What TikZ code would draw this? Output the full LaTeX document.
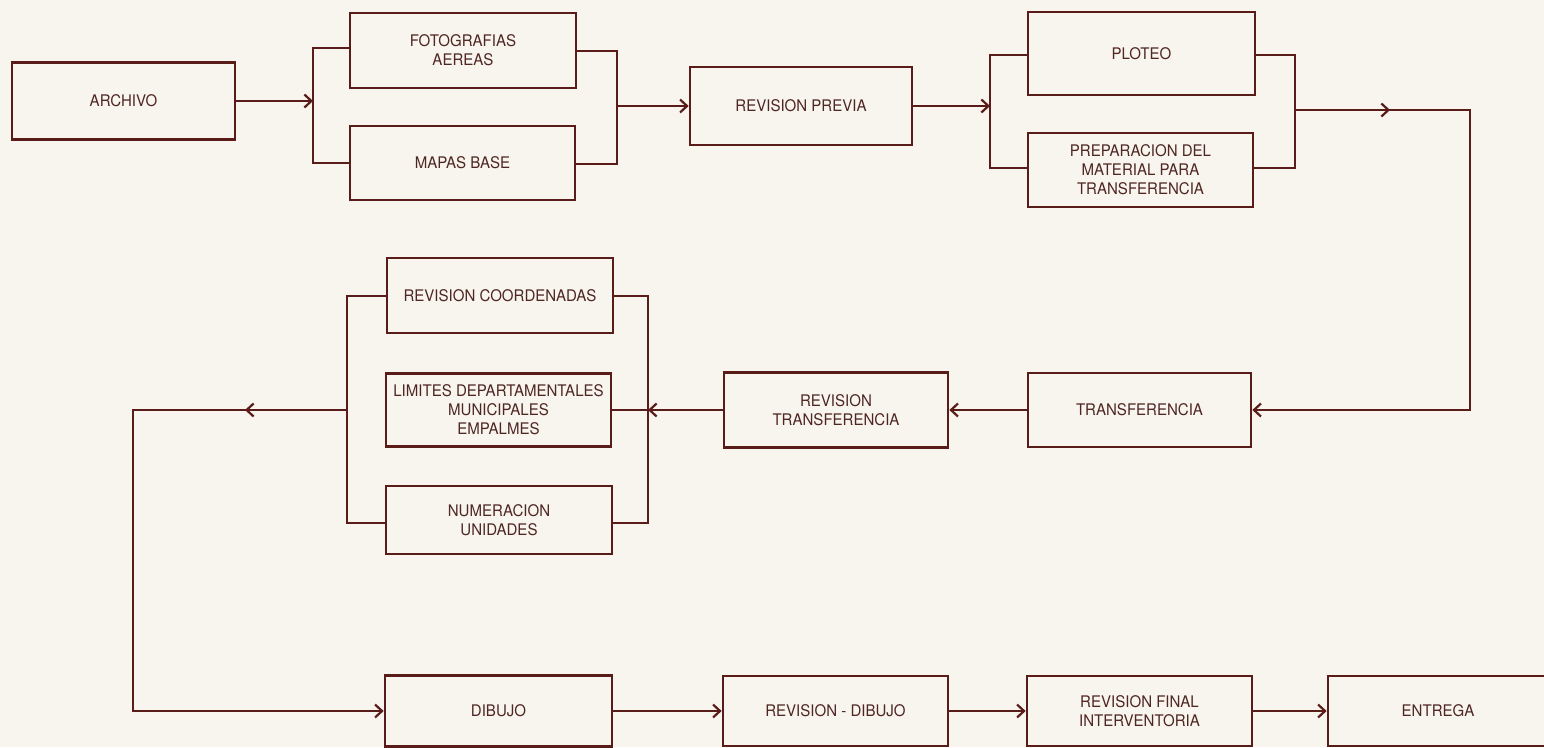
\documentclass[tikz,border=0pt]{standalone}
\usepackage{fontspec}
\setmainfont{TeX Gyre Heros}[FakeStretch=0.94]
\usetikzlibrary{arrows.meta,decorations.markings}
\definecolor{ink}{HTML}{5A1C18}
\definecolor{txt}{HTML}{4E2622}
\definecolor{paper}{HTML}{F8F4EE}
\begin{document}
\begin{tikzpicture}[x=1pt,y=-1pt,
  box/.style={draw=ink, line width=2.7pt, rectangle, inner sep=0pt, align=center,
    text=txt, font=\fontsize{16}{19}\selectfont},
  conn/.style={draw=ink, line width=2.7pt, line join=miter},
  arr/.style={conn, -{Straight Barb[length=7pt,width=13pt,line width=2.2pt]}},
  midarrow/.style={postaction={decorate}, decoration={markings,
    mark=at position #1 with {\arrow[ink]{Straight Barb[length=7pt,width=13pt,line width=2.2pt]}}}}
]
\fill[paper] (0,0) rectangle (1544,747);
\useasboundingbox (0,0) rectangle (1544,747);

% top row
\node[box, minimum width=223pt, minimum height=77pt] (archivo) at (123.5,101) {ARCHIVO};
\node[box, minimum width=226pt, minimum height=75pt] (foto) at (463,50.5) {FOTOGRAFIAS\\AEREAS};
\node[box, minimum width=225pt, minimum height=74pt] (mapas) at (462.5,163) {MAPAS BASE};
\node[box, minimum width=222pt, minimum height=78pt] (revprev) at (801,106) {REVISION PREVIA};
\node[box, minimum width=227pt, minimum height=83pt] (ploteo) at (1141.5,53.5) {PLOTEO};
\node[box, minimum width=225pt, minimum height=74pt] (prep) at (1140.5,170) {PREPARACION DEL\\MATERIAL PARA\\TRANSFERENCIA};

% middle row
\node[box, minimum width=223pt, minimum height=74pt] (transf) at (1139.5,410) {TRANSFERENCIA};
\node[box, minimum width=224pt, minimum height=75pt] (revtransf) at (836,410) {REVISION\\TRANSFERENCIA};
\node[box, minimum width=226pt, minimum height=75pt] (revcoord) at (500,295.5) {REVISION COORDENADAS};
\node[box, minimum width=225pt, minimum height=73pt] (limites) at (498.5,410) {LIMITES DEPARTAMENTALES\\MUNICIPALES\\EMPALMES};
\node[box, minimum width=226pt, minimum height=68pt] (numer) at (499,520) {NUMERACION\\UNIDADES};

% bottom row
\node[box, minimum width=227pt, minimum height=71pt] (dibujo) at (498.5,711) {DIBUJO};
\node[box, minimum width=225pt, minimum height=70pt] (revdib) at (835.5,711) {REVISION - DIBUJO};
\node[box, minimum width=225pt, minimum height=70pt] (revfinal) at (1139.5,711) {REVISION FINAL\\INTERVENTORIA};
\node[box, minimum width=220pt, minimum height=70pt] (entrega) at (1438,711) {ENTREGA};

% bus coordinates
\coordinate (b1t) at (313,48);  \coordinate (b1b) at (313,163);
\coordinate (b2t) at (617,51);  \coordinate (b2b) at (617,164);
\coordinate (b3t) at (990,55);  \coordinate (b3b) at (990,168);
\coordinate (b4t) at (1295,55); \coordinate (b4b) at (1295,168);
\coordinate (b5t) at (648,296); \coordinate (b5b) at (648,523);
\coordinate (b6t) at (347,296); \coordinate (b6b) at (347,523);
\coordinate (c1) at (1470,110);
\coordinate (c2) at (133,410);

% buses
\draw[conn] (foto.west |- b1t) -- (b1t) -- (b1b) -- (mapas.west |- b1b);
\draw[conn] (foto.east |- b2t) -- (b2t) -- (b2b) -- (mapas.east |- b2b);
\draw[conn] (ploteo.west |- b3t) -- (b3t) -- (b3b) -- (prep.west |- b3b);
\draw[conn] (ploteo.east |- b4t) -- (b4t) -- (b4b) -- (prep.east |- b4b);
\draw[conn] (revcoord.east |- b5t) -- (b5t) -- (b5b) -- (numer.east |- b5b);
\draw[conn] (revcoord.west |- b6t) -- (b6t) -- (b6b) -- (numer.west |- b6b);
\draw[conn] (limites.east) -- (b5t |- limites.east);

% flow
\draw[arr] (archivo.east) -- (b1t |- archivo.east);
\draw[arr] (b2t |- revprev.west) -- (revprev.west);
\draw[arr] (revprev.east) -- (b3t |- revprev.east);
\draw[arr, midarrow=95pt] (b4t |- c1) -- (c1) -- (c1 |- transf.east) -- (transf.east);
\draw[arr] (transf.west) -- (revtransf.east);
\draw[arr] (revtransf.west) -- (b5t |- revtransf.west);
\draw[arr, midarrow=102pt] (b6t |- c2) -- (c2) -- (c2 |- dibujo.west) -- (dibujo.west);
\draw[arr] (dibujo.east) -- (revdib.west);
\draw[arr] (revdib.east) -- (revfinal.west);
\draw[arr] (revfinal.east) -- (entrega.west);
\end{tikzpicture}
\end{document}
